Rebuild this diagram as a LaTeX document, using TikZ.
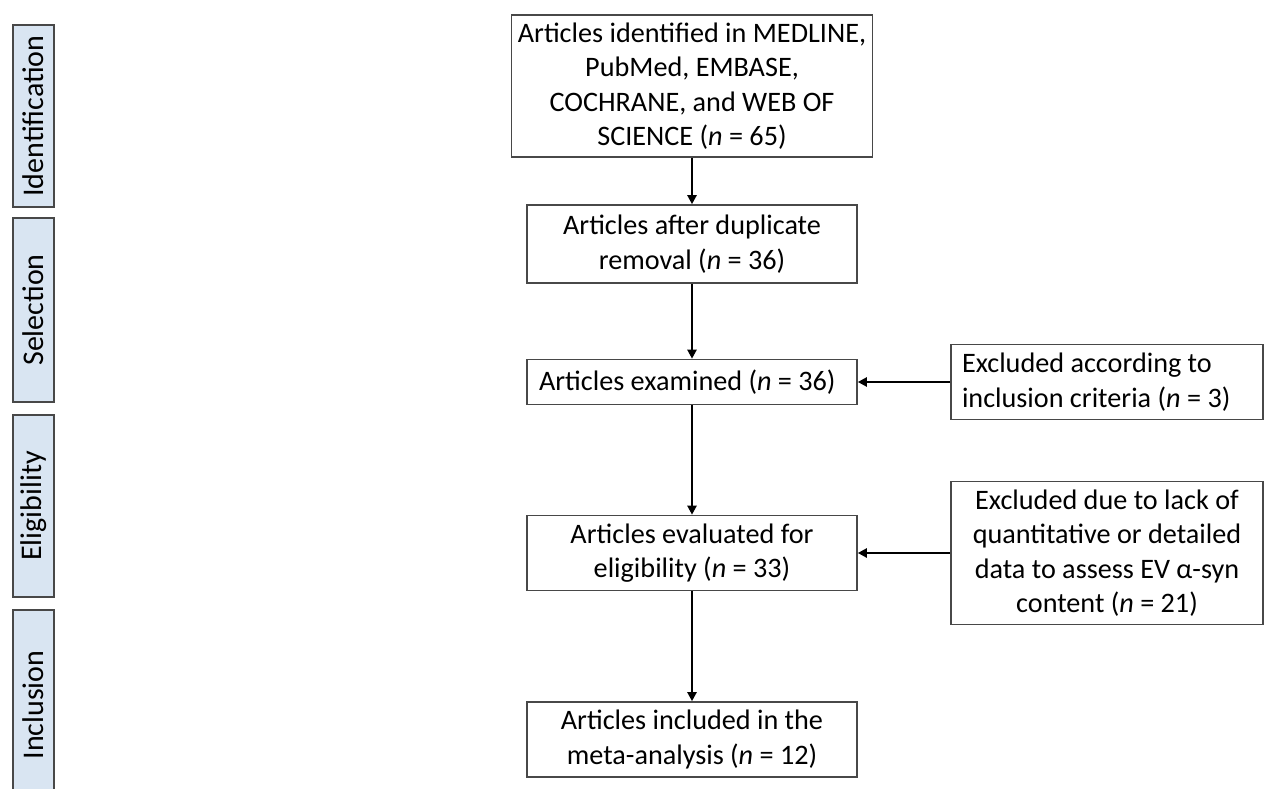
\documentclass[tikz,border=0pt]{standalone}
\usepackage{fontspec}
\setmainfont{Carlito}
\usetikzlibrary{arrows.meta,positioning}
\definecolor{phasefill}{RGB}{217,229,242}
\definecolor{edgegray}{RGB}{72,72,72}

\begin{document}
\begin{tikzpicture}[x=1pt,y=-1pt,
  b/.style={draw=edgegray,line width=1.6pt,align=center,inner sep=0pt,minimum width=330pt,
    font=\fontsize{28.2}{34.5}\selectfont},
  ex/.style={b,minimum width=312pt},
  ph/.style={draw=edgegray,line width=1.6pt,fill=phasefill,rotate=90,minimum height=41pt,
    inner sep=0pt,font=\fontsize{30}{34}\selectfont},
  ar/.style={-{Triangle[length=9pt,width=9pt]},line width=2.6pt}]
\useasboundingbox (0,0) rectangle (1269,789);
\clip (0,0) rectangle (1269,789);
% phases
\node[ph,minimum width=182pt] (pid) at (33.5,116) {Identification};
\node[ph,minimum width=184pt] (psel) at (33.5,310) {Selection};
\node[ph,minimum width=182pt] (pelig) at (33.5,506) {Eligibility};
\node[ph,minimum width=190pt] (pincl) at (33.5,705) {Inclusion};
% main column
\node[b,minimum width=361pt,minimum height=142pt] (found) at (692,86)
  {Articles identified in MEDLINE,\\ PubMed, EMBASE,\\ COCHRANE, and WEB OF\\ SCIENCE (\textit{n} = 65)};
\node[b,minimum height=78pt] (dup) at (692,244) {Articles after duplicate\\ removal (\textit{n} = 36)};
\node[b,align=flush left,text width=306pt,inner xsep=12pt,minimum height=45pt] (exam) at (692,382)
  {Articles examined (\textit{n} = 36)};
\node[b,minimum height=75pt] (elig) at (692,553) {Articles evaluated for\\ eligibility (\textit{n} = 33)};
\node[b,minimum height=75pt] (incl) at (692,739.5) {Articles included in the\\ meta-analysis (\textit{n} = 12)};
% exclusions
\node[ex,align=flush left,text width=290pt,inner xsep=11pt,minimum height=75pt] (excrit) at (1107,382)
  {Excluded according to\\ inclusion criteria (\textit{n} = 3)};
\node[ex,minimum height=143pt] (exdata) at (1107,553)
  {Excluded due to lack of\\ quantitative or detailed\\ data to assess EV α-syn\\ content (\textit{n} = 21)};
\draw[ar] (found) -- (dup);
\draw[ar] (dup) -- (exam);
\draw[ar] (exam) -- (elig);
\draw[ar] (elig) -- (incl);
\draw[ar] (excrit) -- (exam);
\draw[ar] (exdata) -- (elig);
\end{tikzpicture}
\end{document}
